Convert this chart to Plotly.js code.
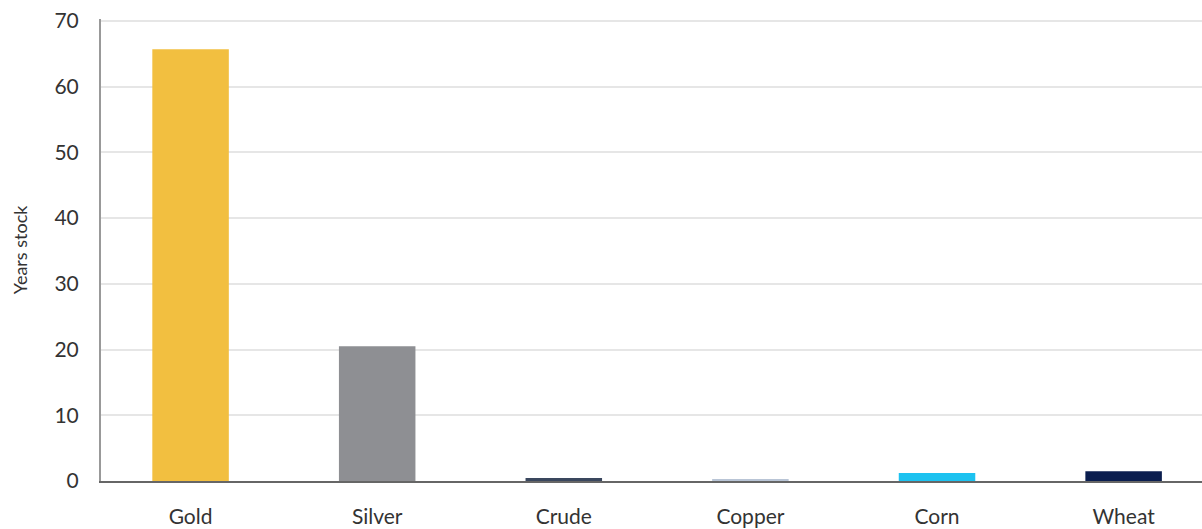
<!DOCTYPE html>
<html><head><meta charset="utf-8">
<script src="https://cdn.plot.ly/plotly-3.0.1.min.js"></script>
<style>body{margin:0;padding:0;background:#fff}#chart{width:1202px;height:529px}</style>
</head><body><div id="chart"></div>
<script>
const categories = ["Gold","Silver","Crude","Copper","Corn","Wheat"];
const yearsStock = [65.7, 20.5, 0.45, 0.3, 1.2, 1.5];
const barColors = ["#F2BF40","#8E8F93","#3A475E","#B9C5D6","#1DC2F0","#0B1E4F"];
const yTicks = [0,10,20,30,40,50,60,70];

Plotly.newPlot("chart", [{
  type: "bar",
  x: categories,
  y: yearsStock,
  width: 0.41,
  marker: {color: barColors},
  hoverinfo: "x+y"
}], {
  width: 1202, height: 529,
  margin: {l: 101, r: 0, t: 19, b: 48},
  paper_bgcolor: "#fff", plot_bgcolor: "#fff",
  font: {family: "Lato, 'Open Sans', sans-serif", color: "#333"},
  showlegend: false,
  xaxis: {
    type: "category",
    range: [-0.48, 5.42],
    showgrid: false,
    showline: true, linecolor: "#666", linewidth: 2,
    ticks: "", ticklabelstandoff: 16,
    tickfont: {size: 21, color: "#333"},
    zeroline: false
  },
  yaxis: {
    range: [0, 70.3],
    tickvals: yTicks,
    ticktext: yTicks.map(String),
    showgrid: true, gridcolor: "#e6e6e6", gridwidth: 2,
    showline: true, linecolor: "#999", linewidth: 2,
    zeroline: false,
    ticks: "", ticklabelstandoff: 16,
    tickfont: {size: 21, color: "#333"},
    title: {text: "Years stock", font: {size: 18, color: "#333"}, standoff: 22}
  }
}, {displayModeBar: false, staticPlot: true});
</script></body></html>
